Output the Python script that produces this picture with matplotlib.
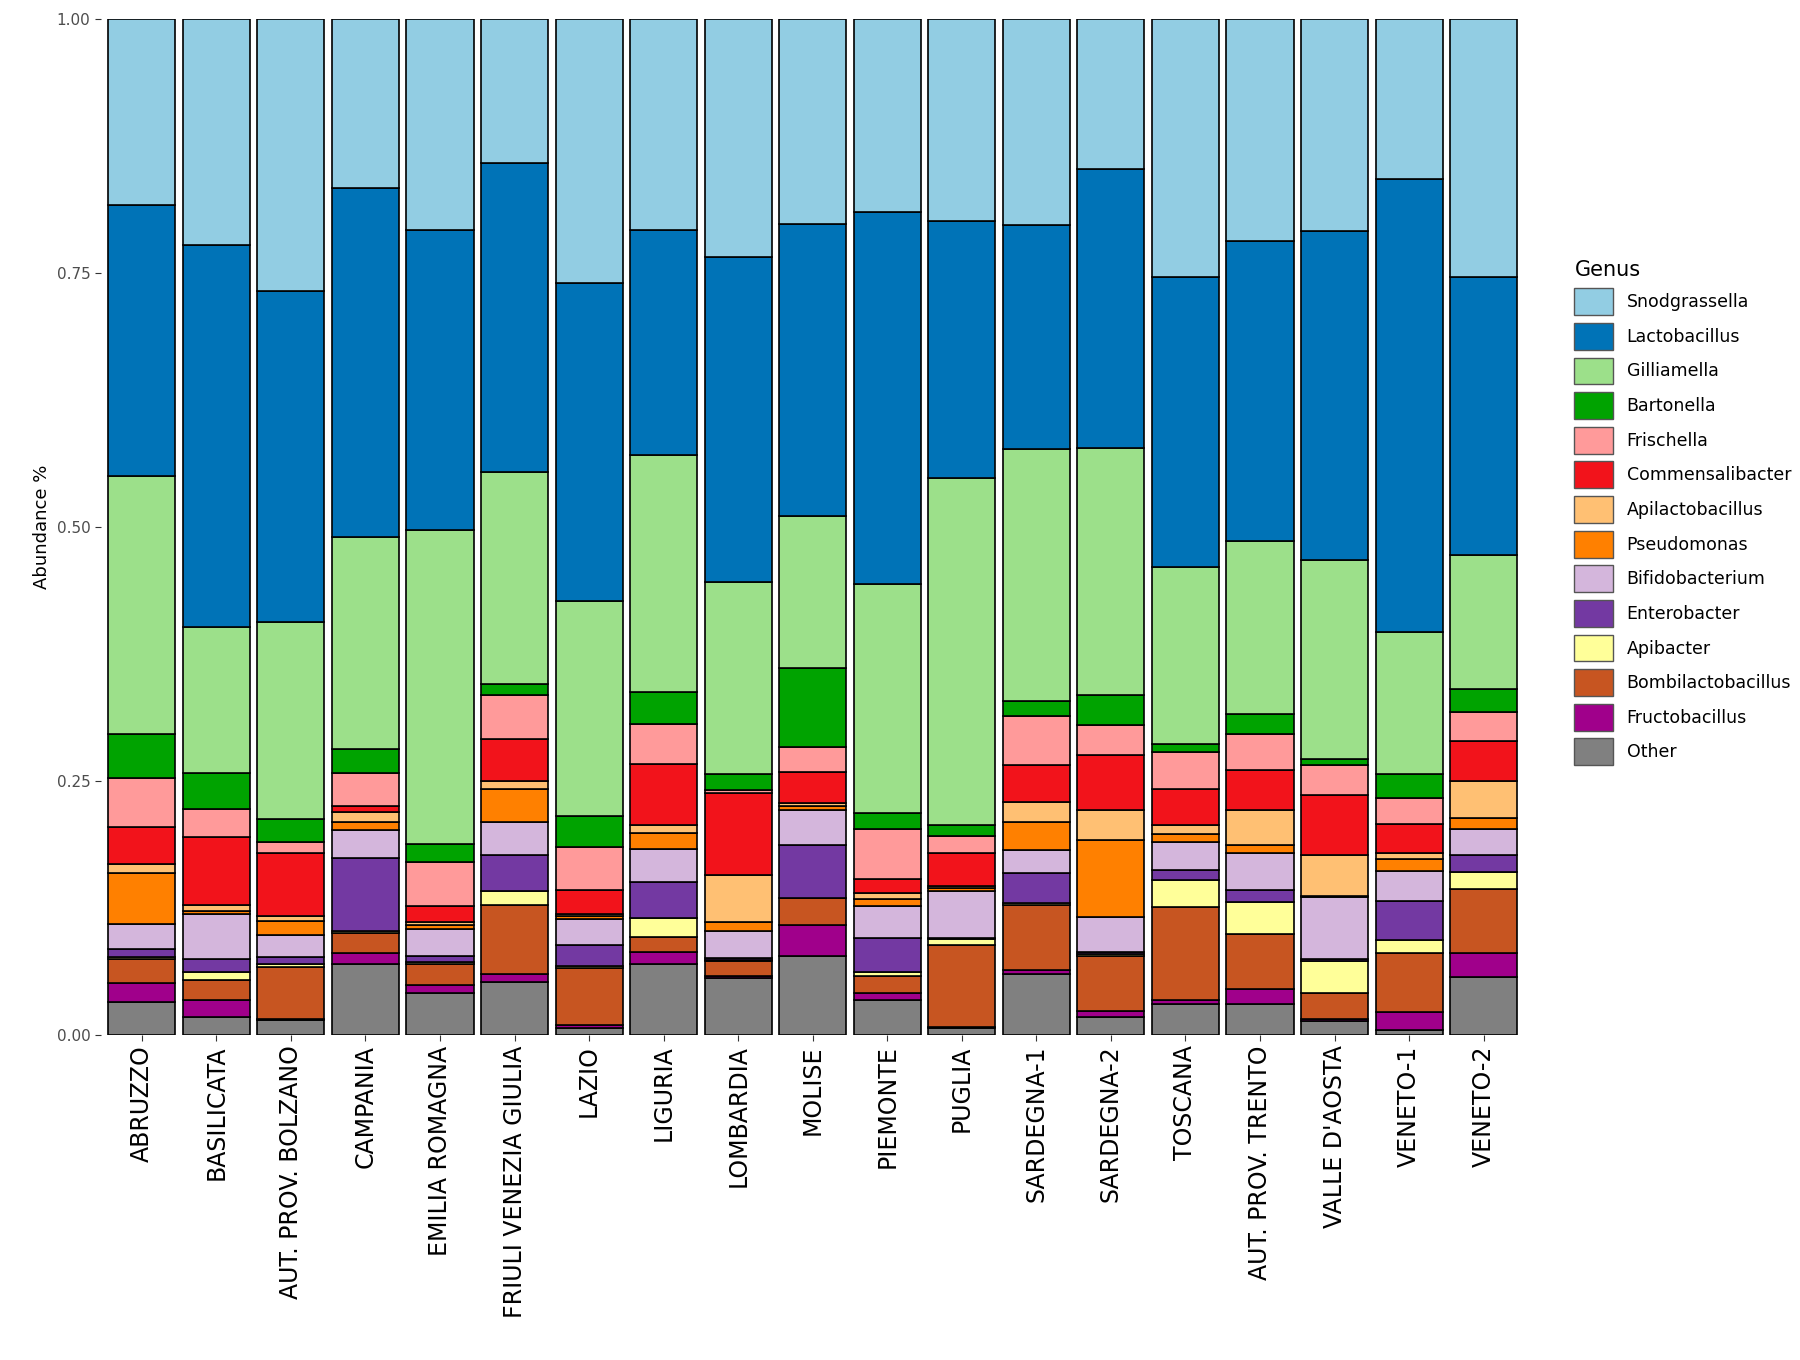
import numpy as np
import matplotlib.pyplot as plt
from matplotlib.patches import Patch

regions = ["ABRUZZO", "BASILICATA", "AUT. PROV. BOLZANO", "CAMPANIA", "EMILIA ROMAGNA",
           "FRIULI VENEZIA GIULIA", "LAZIO", "LIGURIA", "LOMBARDIA", "MOLISE", "PIEMONTE",
           "PUGLIA", "SARDEGNA-1", "SARDEGNA-2", "TOSCANA", "AUT. PROV. TRENTO",
           "VALLE D'AOSTA", "VENETO-1", "VENETO-2"]

# stacking order from the bottom up
genera = ["Other", "Fructobacillus", "Bombilactobacillus", "Apibacter", "Enterobacter",
          "Bifidobacterium", "Pseudomonas", "Apilactobacillus", "Commensalibacter",
          "Frischella", "Bartonella", "Gilliamella", "Lactobacillus", "Snodgrassella"]

colors = {"Snodgrassella": "#92CDE3", "Lactobacillus": "#0073B7", "Gilliamella": "#9CE08A",
          "Bartonella": "#00A300", "Frischella": "#FF9A9A", "Commensalibacter": "#F2131B",
          "Apilactobacillus": "#FFC073", "Pseudomonas": "#FF8000", "Bifidobacterium": "#D4B6DC",
          "Enterobacter": "#7339A2", "Apibacter": "#FFFF99", "Bombilactobacillus": "#C75521",
          "Fructobacillus": "#A0008B", "Other": "#808080"}

# cumulative top of each genus (Other .. Lactobacillus); Snodgrassella fills to 1
abruzzo    = [.032, .051, .075, .077, .085, .109, .159, .168, .205, .253, .296, .550, .817]
basilicata = [.018, .034, .054, .062, .075, .119, .122, .128, .195, .222, .258, .402, .778]
bolzano    = [.015, .016, .067, .070, .077, .098, .112, .117, .179, .190, .213, .406, .732]
campania   = [.070, .081, .100, .102, .174, .202, .210, .219, .225, .258, .281, .490, .834]
emilia     = [.041, .049, .070, .072, .078, .104, .108, .111, .127, .170, .188, .497, .792]
friuli     = [.052, .060, .128, .142, .177, .210, .242, .250, .291, .335, .345, .554, .858]
lazio      = [.007, .010, .066, .068, .089, .114, .117, .119, .143, .185, .216, .427, .740]
liguria    = [.070, .082, .096, .115, .151, .183, .199, .207, .267, .306, .338, .571, .792]
lombardia  = [.056, .058, .073, .074, .076, .102, .111, .157, .238, .241, .257, .446, .766]
molise     = [.078, .108, .135, .135, .187, .221, .225, .228, .259, .283, .361, .511, .798]
piemonte   = [.034, .041, .058, .062, .095, .127, .134, .140, .154, .203, .218, .444, .810]
puglia     = [.007, .008, .089, .094, .095, .142, .145, .147, .179, .196, .207, .548, .801]
sardegna1  = [.060, .064, .128, .130, .159, .182, .210, .229, .266, .314, .329, .577, .797]
sardegna2  = [.018, .024, .078, .080, .082, .116, .192, .221, .276, .305, .335, .578, .852]
toscana    = [.030, .034, .126, .153, .162, .190, .198, .207, .242, .279, .286, .461, .746]
trento     = [.030, .045, .099, .131, .143, .179, .187, .221, .261, .296, .316, .486, .782]
aosta      = [.014, .016, .041, .073, .075, .136, .137, .177, .236, .266, .272, .468, .791]
veneto1    = [.005, .023, .081, .093, .132, .161, .173, .179, .208, .233, .257, .397, .843]
veneto2    = [.057, .081, .144, .160, .177, .203, .214, .250, .289, .318, .341, .472, .746]

tops = np.array([abruzzo, basilicata, bolzano, campania, emilia, friuli, lazio, liguria,
                 lombardia, molise, piemonte, puglia, sardegna1, sardegna2, toscana, trento,
                 aosta, veneto1, veneto2])
tops = np.hstack([tops, np.ones((len(regions), 1))])
bottoms = np.hstack([np.zeros((len(regions), 1)), tops[:, :-1]])

fig = plt.figure(figsize=(18, 13.6), dpi=100)
ax = fig.add_axes([0.056, 0.239, 0.791, 0.747])
x = np.arange(len(regions))
for i, g in enumerate(genera):
    ax.bar(x, tops[:, i] - bottoms[:, i], bottom=bottoms[:, i], width=0.9,
           color=colors[g], edgecolor="black", linewidth=1.2)

ax.set_xlim(-0.55, len(regions) - 0.45)
ax.set_ylim(0, 1)
ax.margins(y=0)
ax.set_yticks([0, 0.25, 0.5, 0.75, 1.0])
ax.set_yticklabels(["0.00", "0.25", "0.50", "0.75", "1.00"], color="#4D4D4D", fontsize=11)
ax.set_xticks(x)
ax.set_xticklabels(regions, rotation=90, fontsize=17)
ax.set_ylabel("Abundance %", fontsize=13)
for s in ax.spines.values():
    s.set_visible(False)
ax.tick_params(axis="both", color="#333333", length=4)

handles = [Patch(facecolor=colors[g], edgecolor="#555555", label=g) for g in genera[::-1]]
leg = fig.legend(handles=handles, title="Genus", loc="upper left",
                 bbox_to_anchor=(0.866, 0.82), frameon=False, fontsize=12.5,
                 title_fontsize=15, handlelength=2.2, handleheight=2.0, labelspacing=0.45)
leg._legend_box.align = "left"

fig.savefig("out.png", dpi=100, facecolor="white")
